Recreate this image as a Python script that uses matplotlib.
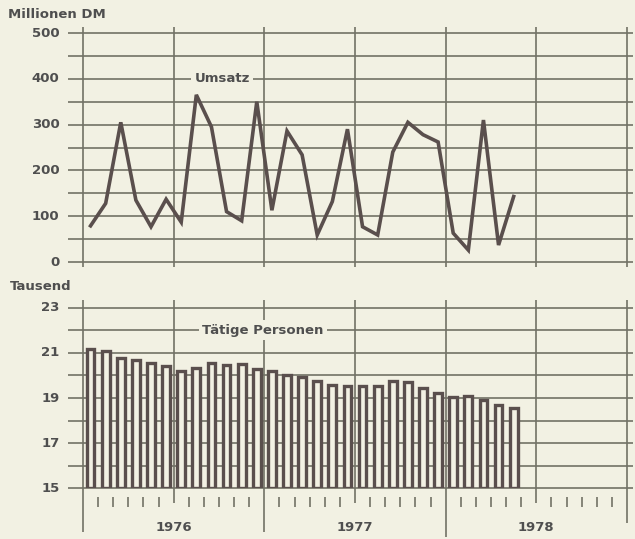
import matplotlib
matplotlib.use("Agg")
import matplotlib.pyplot as plt
import numpy as np

# ---- data ----
months = list(range(1, 30))  # Jan 1976 .. May 1978
umsatz = [79, 128, 305, 135, 77, 137, 87, 365, 295, 110, 90, 350,
          113, 286, 234, 59, 132, 290, 77, 59, 240, 305, 278, 262,
          63, 26, 310, 37, 143]
personen = [21.18, 21.10, 20.79, 20.69, 20.54, 20.42, 20.20, 20.35, 20.54, 20.44, 20.50, 20.27,
            20.20, 20.02, 19.95, 19.76, 19.58, 19.55, 19.51, 19.51, 19.76, 19.73, 19.46, 19.21,
            19.05, 19.08, 18.92, 18.70, 18.55]
top_ticks = [0, 100, 200, 300, 400, 500]
top_grid = list(range(0, 501, 50))
bot_ticks = [15, 17, 19, 21, 23]
bot_grid = list(range(15, 24))
years = ["1976", "1977", "1978"]

# ---- style ----
bg = "#f2f1e3"
grid_c = "#727266"
line_c = "#5a4f4d"
text_c = "#4f4f4f"
font = dict(family="DejaVu Sans", weight="bold", size=9.5, color=text_c)

W, H = 635, 539
fig = plt.figure(figsize=(W / 100, H / 100), dpi=100, facecolor=bg)

x0, x1 = 83, 627
ax1 = fig.add_axes([x0 / W, 1 - 262 / H, (x1 - x0) / W, (262 - 33) / H])
ax2 = fig.add_axes([x0 / W, 1 - 488.3 / H, (x1 - x0) / W, (488.3 - 307.7) / H])
for ax in (ax1, ax2):
    ax.set_xlim(0, 36)
    ax.axis("off")
    ax.set_facecolor(bg)
ax1.set_ylim(0, 500)
ax2.set_ylim(15, 23)

glw = 1.2
# ---- top panel ----
ax1.hlines(top_grid, -1.0, 36.4, colors=grid_c, linewidth=glw, clip_on=False, zorder=1)
ax1.vlines([0, 6, 12, 18, 24, 30, 36], -11, 513, colors=grid_c, linewidth=glw,
           clip_on=False, zorder=1)
xc = np.array(months) - 0.5
ax1.plot(xc, umsatz, color=line_c, linewidth=2.6, solid_joinstyle="miter", zorder=3)
for v in top_ticks:
    ax1.text(-1.55, v, str(v), ha="right", va="center", clip_on=False, **font)
ax1.text(9.2, 400, "Umsatz", ha="center", va="center", zorder=4,
         bbox=dict(boxstyle="square,pad=0.25", facecolor=bg, edgecolor="none"), **font)

# ---- bottom panel ----
ax2.hlines(bot_grid, -1.0, 36.4, colors=grid_c, linewidth=glw, clip_on=False, zorder=1)
ax2.vlines([6, 18, 30], 14.35, 23.34, colors=grid_c, linewidth=glw, clip_on=False, zorder=1)
ax2.vlines([0, 12], 13.06, 23.34, colors=grid_c, linewidth=glw, clip_on=False, zorder=1)
ax2.vlines([24], 12.84, 23.34, colors=grid_c, linewidth=glw, clip_on=False, zorder=1)
ax2.vlines([36], 13.46, 23.34, colors=grid_c, linewidth=glw, clip_on=False, zorder=1)
short = [m for m in range(1, 36) if m % 6 != 0]
ax2.vlines(short, 14.15, 14.61, colors=grid_c, linewidth=glw, clip_on=False, zorder=1)
ax2.bar(xc, np.array(personen) - 15, bottom=15, width=0.51, facecolor=bg,
        edgecolor=line_c, linewidth=2.4, zorder=3)
for v in bot_ticks:
    ax2.text(-1.55, v, str(v), ha="right", va="center", clip_on=False, **font)
ax2.text(11.9, 22, "Tätige Personen", ha="center", va="center", zorder=4,
         bbox=dict(boxstyle="square,pad=0.25", facecolor=bg, edgecolor="none"), **font)
for i, y in enumerate(years):
    ax2.text(6 + 12 * i, 13.27, y, ha="center", va="center", clip_on=False, **font)

# ---- unit labels ----
fig.text(8 / W, 1 - 14 / H, "Millionen DM", ha="left", va="center", **font)
fig.text(10 / W, 1 - 286 / H, "Tausend", ha="left", va="center", **font)

fig.savefig("out.png", dpi=100, facecolor=bg)
